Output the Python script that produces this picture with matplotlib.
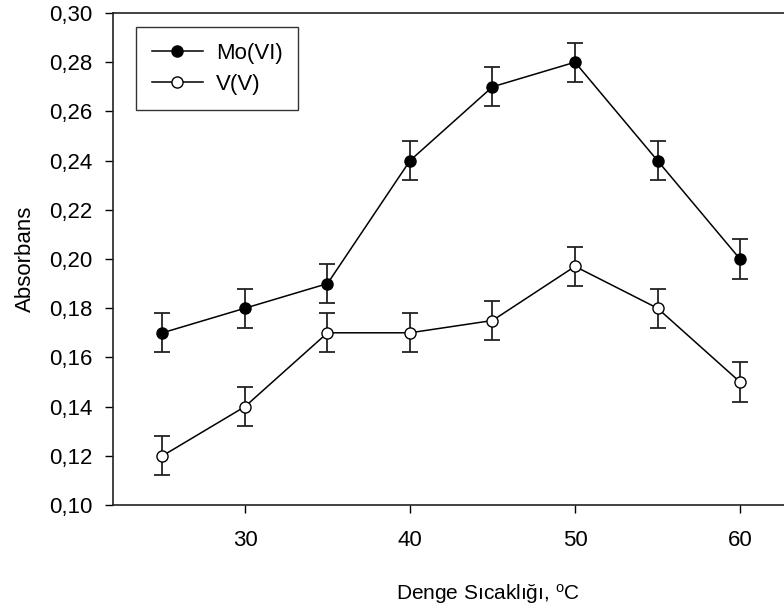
import matplotlib.pyplot as plt
from matplotlib.lines import Line2D

plt.rcParams['font.family'] = ['Liberation Sans', 'DejaVu Sans']

# sicaklik (x) ve absorbans degerleri
sicaklik = [25, 30, 35, 40, 45, 50, 55, 60]
mo_vi = [0.170, 0.180, 0.190, 0.240, 0.270, 0.280, 0.240, 0.200]
v_v = [0.120, 0.140, 0.170, 0.170, 0.175, 0.197, 0.180, 0.150]
mo_err = [0.008, 0.008, 0.008, 0.008, 0.008, 0.008, 0.008, 0.008]
v_err = [0.008, 0.008, 0.008, 0.008, 0.008, 0.008, 0.008, 0.008]

yticks = [0.10, 0.12, 0.14, 0.16, 0.18, 0.20, 0.22, 0.24, 0.26, 0.28, 0.30]
xticks = [30, 40, 50, 60]

fig = plt.figure(figsize=(7.84, 6.15), dpi=100)
# axes goes past the right edge (the original picture is cut there)
left, bottom = 113 / 784, 1 - 505 / 615
width = (67.5 - 22) * 16.5 / 784
height = (505 - 13) / 615
ax = fig.add_axes([left, bottom, width, height])

ax.errorbar(sicaklik, mo_vi, yerr=mo_err, color='k', lw=1.1, marker='o',
            ms=8, mfc='k', mec='k', ecolor='#222222', elinewidth=1.3,
            capsize=5.5, capthick=1.3)
ax.errorbar(sicaklik, v_v, yerr=v_err, color='k', lw=1.1, marker='o',
            ms=8, mfc='white', mec='k', ecolor='#222222', elinewidth=1.3,
            capsize=5.5, capthick=1.3)

ax.set_xlim(22, 67.5)
ax.set_ylim(0.10, 0.30)
ax.set_xticks(xticks)
ax.set_yticks(yticks)
ax.set_yticklabels([('%.2f' % t).replace('.', ',') for t in yticks])
ax.tick_params(direction='out', length=6, width=1, labelsize=16)
ax.tick_params(axis='x', pad=12)
ax.tick_params(axis='y', pad=8.5)
for s in ax.spines.values():
    s.set_linewidth(1.2)
    s.set_color('#222222')

ax.set_xlabel('Denge Sıcaklığı, $\\mathregular{^{o}}$C', fontsize=15, labelpad=22)
ax.set_ylabel('Absorbans', fontsize=16, labelpad=10)

handles = [Line2D([], [], color='k', lw=1.1, marker='o', ms=8, mfc='k', mec='k'),
           Line2D([], [], color='k', lw=1.1, marker='o', ms=8, mfc='white', mec='k')]
leg = ax.legend(handles, ['Mo(VI)', 'V(V)'], loc='upper left',
                bbox_to_anchor=(23 / 750.75, 1 - 14 / 492), fontsize=16,
                frameon=True, fancybox=False, edgecolor='k', handlelength=2.3,
                handletextpad=0.6, borderpad=0.7, labelspacing=0.45,
                borderaxespad=0)
leg.get_frame().set_linewidth(1.0)

plt.savefig('out.png', dpi=100)
